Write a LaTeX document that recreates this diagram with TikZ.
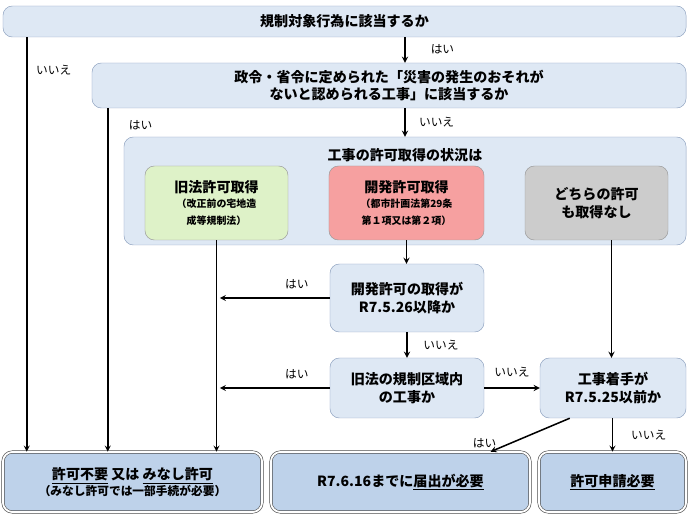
\documentclass[tikz,border=0pt]{standalone}
\usepackage{fontspec}
\setmainfont{Noto Sans CJK JP}
\usetikzlibrary{arrows,positioning}
\newcommand{\uln}[1]{\underline{#1}}
\newcommand{\subfont}{\fontsize{8.5}{11}\selectfont}
\definecolor{qfill}{RGB}{222,232,244}
\definecolor{qline}{RGB}{140,160,190}
\definecolor{rfill}{RGB}{190,210,234}
\definecolor{greenbox}{RGB}{222,242,200}
\definecolor{redbox}{RGB}{246,160,160}
\definecolor{greybox}{RGB}{204,204,204}

\begin{document}
\begin{tikzpicture}[x=0.03cm,y=-0.03cm,
    box/.style={rectangle,draw=qline,fill=qfill,rounded corners=8pt,align=center,inner sep=2pt,font=\fontsize{12}{15}\selectfont\bfseries},
    result/.style={box,fill=rfill,draw=black!70,double=white,double distance=1.6pt,line width=0.5pt},
    sub/.style={box,draw=black!40},
    arr/.style={-stealth,line width=1.3pt},
    lab/.style={font=\fontsize{10}{12}\selectfont}]
    \useasboundingbox (0,0) rectangle (690,517);

    \node[box,minimum width=20.49cm,minimum height=0.93cm] at (344.5,21.5) (top) {規制対象行為に該当するか};
    \node[box,minimum width=17.82cm,minimum height=1.35cm] at (389,85.5) (disaster) {政令・省令に定められた「災害の発生のおそれが\\ないと認められる工事」に該当するか};
    \node[box,minimum width=16.86cm,minimum height=3.24cm] at (405,191) (status) {};
    \node[box,draw=none,fill=none] at (405,155) (statustitle) {工事の許可取得の状況は};
    \node[sub,fill=greenbox,minimum width=4.29cm,minimum height=2.22cm] at (216.5,203) (oldlaw) {旧法許可取得\\[-2pt]\subfont （改正前の宅地造\\\subfont 成等規制法）};
    \node[sub,fill=redbox,minimum width=4.65cm,minimum height=2.22cm] at (406.5,203) (devpermit) {開発許可取得\\[-2pt]\subfont （都市計画法第29条\\\subfont 第１項又は第２項）};
    \node[sub,fill=greybox,minimum width=4.29cm,minimum height=2.22cm] at (596.5,203) (nopermit) {どちらの許可\\も取得なし};

    \node[box,minimum width=4.62cm,minimum height=2.04cm] at (407,298) (afterdate) {開発許可の取得が\\R7.5.26以降か};
    \node[box,minimum width=4.62cm,minimum height=1.8cm] at (407,388) (oldarea) {旧法の規制区域内\\の工事か};
    \node[box,minimum width=4.38cm,minimum height=1.8cm] at (613,388) (startdate) {工事着手が\\R7.5.25以前か};

    \node[result,minimum width=7.77cm,minimum height=1.8cm] at (132.5,482) (deemed) {\uln{許可不要} 又は \uln{みなし許可}\\[-2pt]\fontsize{10}{12}\selectfont （みなし許可では一部手続が必要）};
    \node[result,minimum width=7.77cm,minimum height=1.8cm] at (400.5,482) (notify) {R7.6.16までに\uln{届出が必要}};
    \node[result,minimum width=4.41cm,minimum height=1.8cm] at (612.5,482) (apply) {\uln{許可申請必要}};

    % top flow
    \draw[arr] (top.south -| status.north) -- (disaster.north -| status.north) node[lab,pos=0.45,right=18pt] {はい};
    \draw[arr] ([xshift=0.72cm]top.south west) -- ([xshift=0.72cm]top.south west |- deemed.north) node[lab,pos=0.08,right=4pt] {いいえ};
    \draw[arr] ([xshift=0.48cm]disaster.south west) -- ([xshift=0.48cm]disaster.south west |- deemed.north) node[lab,pos=0.05,right=14pt] {はい};
    \draw[arr] (disaster.south -| status.north) -- (status.north) node[lab,pos=0.5,right=8pt] {いいえ};

    % permit status
    \draw[arr] (oldlaw.south) -- (oldlaw.south |- deemed.north);
    \draw[arr] (devpermit.south) -- (devpermit.south |- afterdate.north);
    \draw[arr] ([xshift=0.45cm]nopermit.south) -- ([xshift=0.45cm]nopermit.south |- startdate.north);

    % questions
    \draw[arr] (afterdate.west) -- ++(-110,0) node[lab,pos=0.3,above=4pt] {はい};
    \draw[arr] (afterdate.south) -- (oldarea.north) node[lab,midway,right=10pt] {いいえ};
    \draw[arr] (oldarea.west) -- ++(-110,0) node[lab,pos=0.3,above=4pt] {はい};
    \draw[arr] (oldarea.east) -- (startdate.west) node[lab,pos=0.5,above=5pt] {いいえ};
    \draw[arr] ([xshift=0.9cm]startdate.south west) -- ([xshift=2.7cm]notify.north) node[lab,pos=0.75,left=8pt] {はい};
    \draw[arr] (startdate.south -| apply.north) -- (apply.north) node[lab,midway,right=12pt] {いいえ};
\end{tikzpicture}
\end{document}
